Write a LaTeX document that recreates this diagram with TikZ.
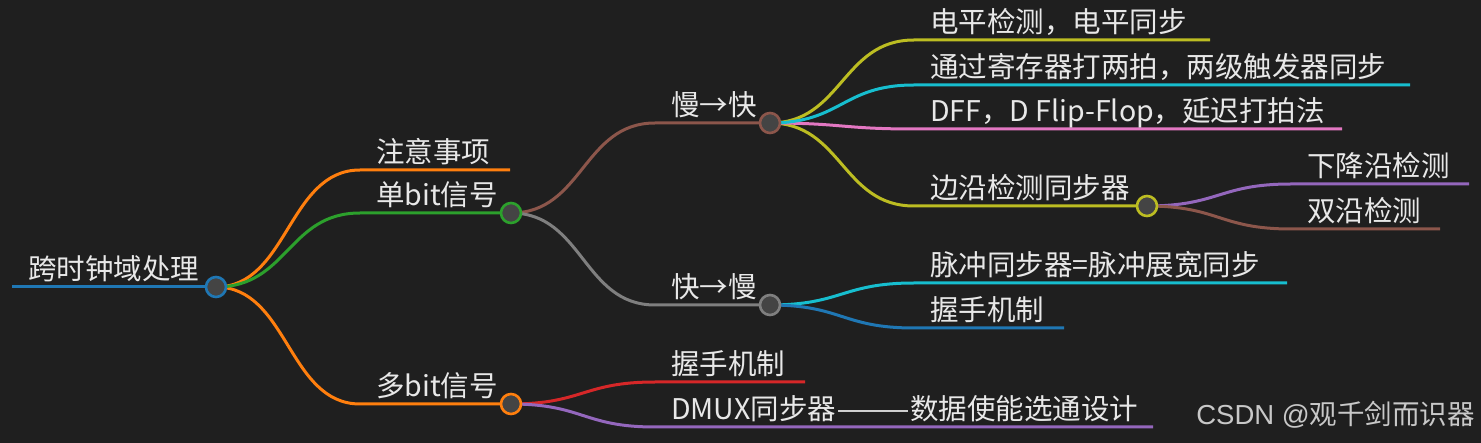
\documentclass[tikz,border=0pt]{standalone}
\usepackage{fontspec}
\usepackage{graphicx}
\setmainfont{Noto Sans CJK SC}
\newfontfamily\wmlat{Liberation Sans}
\usetikzlibrary{calc}
\definecolor{bg}{RGB}{31,31,31}
\definecolor{dotfill}{RGB}{68,68,68}
\definecolor{txt}{RGB}{232,232,232}
\definecolor{wmtxt}{RGB}{200,200,200}
\definecolor{cblue}{HTML}{1F77B4}
\definecolor{corange}{HTML}{FF7F0E}
\definecolor{cgreen}{HTML}{2CA02C}
\definecolor{cred}{HTML}{D62728}
\definecolor{cpurple}{HTML}{9467BD}
\definecolor{cbrown}{HTML}{8C564B}
\definecolor{cpink}{HTML}{E377C2}
\definecolor{cgray}{HTML}{7F7F7F}
\definecolor{colive}{HTML}{BCBD22}
\definecolor{ccyan}{HTML}{17BECF}
\newcommand\mmlink[4]{\draw[link,#4] (#1) .. controls ([xshift=72pt]#1) and ([xshift=-72pt]#2) .. (#2) -- (#3);}
\begin{document}
\begin{tikzpicture}[x=1pt,y=-1pt,
  link/.style={line width=3pt},
  dot/.style={circle, draw, line width=2.6pt, fill=dotfill, minimum size=20pt, inner sep=0pt},
  lbl/.style={anchor=base west, inner sep=0pt, text=txt, font=\fontsize{28.5}{30}\selectfont}]
\fill[bg] (0,0) rectangle (1481,443);
\useasboundingbox (0,0) rectangle (1481,443);
% coordinates
\coordinate (r0) at (12,287);   \coordinate (rC) at (216,287);
\coordinate (aS) at (360,170);  \coordinate (aE) at (510,170);
\coordinate (bS) at (360,213);  \coordinate (bC) at (511,213);
\coordinate (cS) at (360,404);  \coordinate (cC) at (511,404);
\coordinate (b1S) at (655,123); \coordinate (b1C) at (770,123);
\coordinate (b2S) at (655,305); \coordinate (b2C) at (770,305);
\coordinate (c1S) at (655,382); \coordinate (c1E) at (805,382);
\coordinate (c2S) at (655,427); \coordinate (c2E) at (1153,427);
\coordinate (b1aS) at (914,40);  \coordinate (b1aE) at (1210,40);
\coordinate (b1bS) at (914,85);  \coordinate (b1bE) at (1410,85);
\coordinate (b1cS) at (914,129); \coordinate (b1cE) at (1342,129);
\coordinate (b1dS) at (914,206); \coordinate (b1dC) at (1147,206);
\coordinate (b2aS) at (914,283); \coordinate (b2aE) at (1287,283);
\coordinate (b2bS) at (914,328); \coordinate (b2bE) at (1064,328);
\coordinate (d1S) at (1291,184); \coordinate (d1E) at (1469,184);
\coordinate (d2S) at (1291,229); \coordinate (d2E) at (1440,229);
% connectors
\draw[link,cblue] (r0) -- (rC);
\mmlink{rC}{aS}{aE}{corange}
\mmlink{rC}{cS}{cC}{corange}
\mmlink{rC}{bS}{bC}{cgreen}
\mmlink{bC}{b1S}{b1C}{cbrown}
\mmlink{bC}{b2S}{b2C}{cgray}
\mmlink{cC}{c1S}{c1E}{cred}
\mmlink{cC}{c2S}{c2E}{cpurple}
\mmlink{b1C}{b1aS}{b1aE}{colive}
\mmlink{b1C}{b1dS}{b1dC}{colive}
\mmlink{b1C}{b1cS}{b1cE}{cpink}
\mmlink{b1C}{b1bS}{b1bE}{ccyan}
\mmlink{b2C}{b2aS}{b2aE}{ccyan}
\mmlink{b2C}{b2bS}{b2bE}{cblue}
\mmlink{b1dC}{d1S}{d1E}{cpurple}
\mmlink{b1dC}{d2S}{d2E}{cbrown}
% dots
\node[dot,draw=cblue] (R) at (rC) {};
\node[dot,draw=cgreen] (B) at (bC) {};
\node[dot,draw=corange] (C) at (cC) {};
\node[dot,draw=cbrown] (B1) at (b1C) {};
\node[dot,draw=cgray] (B2) at (b2C) {};
\node[dot,draw=colive] (B1d) at (b1dC) {};
% labels
\node[lbl] (tR) at ([xshift=16pt,yshift=7pt]r0) {跨时钟域处理};
\node[lbl] (tA) at ([xshift=16pt,yshift=7pt]aS) {注意事项};
\node[lbl] (tB) at ([xshift=16pt,yshift=7pt]bS) {单bit信号};
\node[lbl] (tC) at ([xshift=16pt,yshift=7pt]cS) {多bit信号};
\node[lbl] (tB1) at ([xshift=16pt,yshift=7pt]b1S) {慢→快};
\node[lbl] (tB2) at ([xshift=16pt,yshift=7pt]b2S) {快→慢};
\node[lbl] (tC1) at ([xshift=16pt,yshift=7pt]c1S) {握手机制};
\node[lbl] (tC2) at ([xshift=16pt,yshift=7pt]c2S) {DMUX同步器\scalebox{1.55}[1]{——}数据使能选通设计};
\node[lbl] (tB1a) at ([xshift=16pt,yshift=7pt]b1aS) {电平检测，电平同步};
\node[lbl] (tB1b) at ([xshift=16pt,yshift=7pt]b1bS) {通过寄存器打两拍，两级触发器同步};
\node[lbl] (tB1c) at ([xshift=16pt,yshift=7pt]b1cS) {DFF，D Flip-Flop，延迟打拍法};
\node[lbl] (tB1d) at ([xshift=16pt,yshift=7pt]b1dS) {边沿检测同步器};
\node[lbl] (tB2a) at ([xshift=16pt,yshift=7pt]b2aS) {脉冲同步器=脉冲展宽同步};
\node[lbl] (tB2b) at ([xshift=16pt,yshift=7pt]b2bS) {握手机制};
\node[lbl] (tD1) at ([xshift=16pt,yshift=7pt]d1S) {下降沿检测};
\node[lbl] (tD2) at ([xshift=16pt,yshift=7pt]d2S) {双沿检测};
% watermark
\node[anchor=base east, inner sep=0pt, text=wmtxt, font=\fontsize{27.5}{29}\selectfont] (wm) at (1475,425) {{\wmlat CSDN @}观千剑而识器};
\end{tikzpicture}
\end{document}
